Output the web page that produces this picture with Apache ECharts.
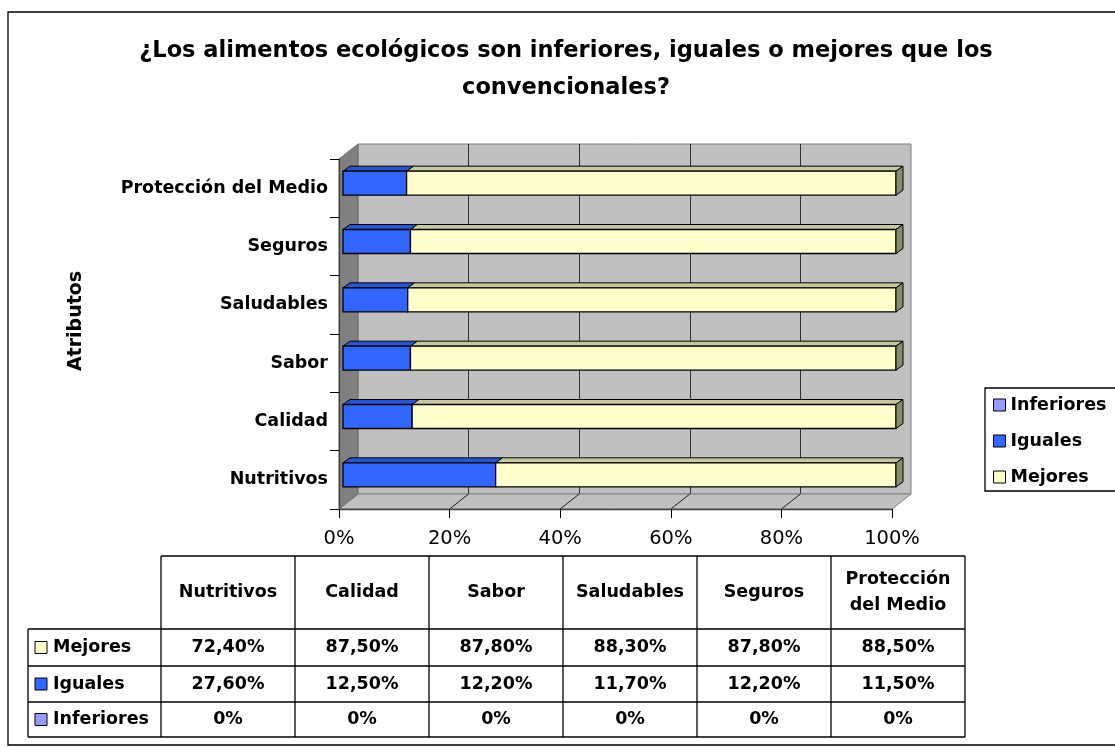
<!DOCTYPE html>
<html>
<head>
<meta charset="utf-8">
<title>Alimentos ecológicos</title>
<script src="https://cdn.jsdelivr.net/npm/echarts@6/dist/echarts.min.js"></script>
<style>
  html, body { margin: 0; padding: 0; background: #fff; }
  #chart { width: 1115px; height: 747px; }
</style>
</head>
<body>
<div id="chart"></div>
<script>
// datos (de abajo hacia arriba en el gráfico)
const categories = ['Nutritivos', 'Calidad', 'Sabor', 'Saludables', 'Seguros', 'Protección del Medio'];
const mejores = [72.4, 87.5, 87.8, 88.3, 87.8, 88.5];
const iguales = [27.6, 12.5, 12.2, 11.7, 12.2, 11.5];
const inferiores = [0, 0, 0, 0, 0, 0];
const xTicks = [0, 20, 40, 60, 80, 100];

const FONT = 'DejaVu Sans';
const WALL_DX = 19, WALL_DY = -15;     // profundidad del fondo
const BAR_H = 24, BAR_DX = 4, BAR_DY = -5;
const TOP_DX = 7, TOP_DY = -5;          // profundidad de cada barra

// orden del apilado, de izquierda a derecha
const segments = [
  { name: 'Inferiores', values: inferiores, front: '#9999FF', top: '#7A7ACC', side: '#5C5C99' },
  { name: 'Iguales', values: iguales, front: '#3366FF', top: '#2A55D0', side: '#1F3D99' },
  { name: 'Mejores', values: mejores, front: '#FFFFCC', top: '#C8C8A0', side: '#8C8C6C' }
];

const fmt = v => (v === 0 ? '0%' : v.toFixed(2).replace('.', ',') + '%');

let chart = echarts.init(document.getElementById('chart'));

function barItem(seg, isLast) {
  return function (params, api) {
    const a = api.coord([api.value(0), api.value(2)]);
    const b = api.coord([api.value(1), api.value(2)]);
    if (b[0] - a[0] < 0.5) return;
    const x0 = a[0] + BAR_DX, x1 = b[0] + BAR_DX;
    const y0 = a[1] + BAR_DY - BAR_H / 2, y1 = y0 + BAR_H;
    const children = [
      {
        type: 'polygon',
        shape: { points: [[x0, y0], [x0 + TOP_DX, y0 + TOP_DY], [x1 + TOP_DX, y0 + TOP_DY], [x1, y0]] },
        style: { fill: seg.top, stroke: '#000', lineWidth: 1 }
      },
      {
        type: 'rect',
        shape: { x: x0, y: y0, width: x1 - x0, height: BAR_H },
        style: { fill: seg.front, stroke: '#000', lineWidth: 1.3 }
      }
    ];
    if (isLast) {
      children.push({
        type: 'polygon',
        shape: { points: [[x1, y0], [x1 + TOP_DX, y0 + TOP_DY], [x1 + TOP_DX, y1 + TOP_DY], [x1, y1]] },
        style: { fill: seg.side, stroke: '#000', lineWidth: 1 }
      });
    }
    return { type: 'group', children };
  };
}

// suelo, pared lateral y líneas del suelo
function scaffold(params, api) {
  const cs = params.coordSys;
  const p = api.coord([api.value(0), 0]);
  const L = cs.x, R = cs.x + cs.width, T = cs.y, B = cs.y + cs.height;
  const children = [];
  if (params.dataIndex === 0) {
    children.push({
      type: 'polygon',
      shape: { points: [[L, B], [L + WALL_DX, B + WALL_DY], [R + WALL_DX, B + WALL_DY], [R, B]] },
      style: { fill: '#C0C0C0', stroke: '#808080', lineWidth: 1 }
    });
    children.push({
      type: 'polygon',
      shape: { points: [[L, T], [L + WALL_DX, T + WALL_DY], [L + WALL_DX, B + WALL_DY], [L, B]] },
      style: { fill: '#808080', stroke: '#707070', lineWidth: 1 }
    });
  }
  if (params.dataIndex > 0 && params.dataIndex < xTicks.length - 1) {
    children.push({
      type: 'line',
      shape: { x1: p[0], y1: B, x2: p[0] + WALL_DX, y2: B + WALL_DY },
      style: { stroke: '#202020', lineWidth: 1 }
    });
  }
  return { type: 'group', children };
}

const series = [{
  type: 'custom',
  name: 'fondo',
  xAxisIndex: 0,
  yAxisIndex: 0,
  z: 3,
  silent: true,
  renderItem: scaffold,
  encode: { x: 0, y: 1 },
  data: xTicks.map(v => [v, 0])
}];

const base = categories.map(() => 0);
segments.forEach((seg, si) => {
  const data = seg.values.map((v, i) => {
    const item = [base[i], base[i] + v, i];
    base[i] += v;
    return item;
  });
  series.push({
    type: 'custom',
    name: seg.name,
    xAxisIndex: 0,
    yAxisIndex: 0,
    z: 4,
    itemStyle: { color: seg.front, borderColor: '#000', borderWidth: 1 },
    renderItem: barItem(seg, si === segments.length - 1),
    encode: { x: [0, 1], y: 2 },
    data
  });
});

// tabla de datos
const tLeft = 28, tCol0 = 161, colW = 134, hTop = 556, hBot = 629;
const rowLines = [629, 666, 702, 737];
const tRight = tCol0 + colW * categories.length;
const tableRows = [
  { name: 'Mejores', values: mejores, color: '#FFFFCC' },
  { name: 'Iguales', values: iguales, color: '#3366FF' },
  { name: 'Inferiores', values: inferiores, color: '#9999FF' }
];
const cellFont = { fontFamily: FONT, fontSize: 17.5, fontWeight: 'bold', fill: '#000' };
const graphics = [];
const hLine = (x1, x2, y) => graphics.push({ type: 'line', shape: { x1, y1: y, x2, y2: y }, style: { stroke: '#000', lineWidth: 1.3 } });
const vLine = (x, y1, y2) => graphics.push({ type: 'line', shape: { x1: x, y1, x2: x, y2 }, style: { stroke: '#000', lineWidth: 1.3 } });

hLine(tCol0, tRight, hTop);
rowLines.forEach(y => hLine(tLeft, tRight, y));
vLine(tLeft, hBot, rowLines[rowLines.length - 1]);
for (let i = 0; i <= categories.length; i++) vLine(tCol0 + colW * i, hTop, rowLines[rowLines.length - 1]);

categories.forEach((c, i) => {
  graphics.push({
    type: 'text',
    x: tCol0 + colW * i + colW / 2,
    y: (hTop + hBot) / 2,
    style: Object.assign({ text: c.replace(' del ', '\ndel '), align: 'center', verticalAlign: 'middle', lineHeight: 26 }, cellFont)
  });
});
tableRows.forEach((r, ri) => {
  const yc = (rowLines[ri] + rowLines[ri + 1]) / 2;
  graphics.push({ type: 'rect', shape: { x: 35, y: yc - 6, width: 12, height: 12 }, style: { fill: r.color, stroke: '#000', lineWidth: 1 } });
  graphics.push({ type: 'text', x: 53, y: yc, style: Object.assign({ text: r.name, align: 'left', verticalAlign: 'middle' }, cellFont) });
  r.values.forEach((v, i) => {
    graphics.push({
      type: 'text',
      x: tCol0 + colW * i + colW / 2,
      y: yc,
      style: Object.assign({ text: fmt(v), align: 'center', verticalAlign: 'middle' }, cellFont)
    });
  });
});

// título del eje vertical
graphics.push({
  type: 'text',
  x: 76,
  y: 321,
  rotation: Math.PI / 2,
  style: { text: 'Atributos', fontFamily: FONT, fontSize: 19, fontWeight: 'bold', fill: '#000', align: 'center', verticalAlign: 'middle' }
});
// marco exterior
graphics.push({
  type: 'rect',
  z: -1,
  shape: { x: 8, y: 12, width: 1120, height: 733 },
  style: { fill: 'none', stroke: '#000', lineWidth: 1.3 }
});

let option = {
  backgroundColor: '#fff',
  animation: false,
  title: {
    text: '¿Los alimentos ecológicos son inferiores, iguales o mejores que los\nconvencionales?',
    left: 566,
    top: 33,
    padding: 0,
    textAlign: 'center',
    textStyle: { fontFamily: FONT, fontSize: 22.5, fontWeight: 'bold', color: '#000', lineHeight: 37 }
  },
  legend: {
    orient: 'vertical',
    left: 985,
    top: 388,
    padding: [7, 30, 4, 8],
    borderColor: '#000',
    borderWidth: 1.3,
    itemWidth: 12,
    itemHeight: 12,
    itemGap: 16,
    icon: 'rect',
    itemStyle: { borderColor: '#000', borderWidth: 1 },
    textStyle: { fontFamily: FONT, fontSize: 17.5, fontWeight: 'bold', color: '#000', lineHeight: 20 },
    data: ['Inferiores', 'Iguales', 'Mejores']
  },
  grid: [
    { left: 339, top: 159, width: 553, height: 350, containLabel: false },
    { left: 358, top: 144, width: 553, height: 350, show: true, backgroundColor: '#C0C0C0', borderColor: '#808080', borderWidth: 1 }
  ],
  xAxis: [
    {
      gridIndex: 0,
      type: 'value',
      min: 0,
      max: 100,
      interval: 20,
      z: 10,
      axisLine: { show: true, lineStyle: { color: '#404040', width: 1.3 } },
      axisTick: { show: true, length: 9, lineStyle: { color: '#000' } },
      axisLabel: { formatter: '{value}%', fontFamily: FONT, fontSize: 19.5, color: '#000', margin: 20 },
      splitLine: { show: false }
    },
    {
      gridIndex: 1,
      type: 'value',
      min: 0,
      max: 100,
      interval: 20,
      axisLine: { show: false },
      axisTick: { show: false },
      axisLabel: { show: false },
      splitLine: { show: true, showMinLine: false, showMaxLine: false, lineStyle: { color: '#303030', width: 1 } }
    }
  ],
  yAxis: [
    {
      gridIndex: 0,
      type: 'category',
      data: categories,
      z: 10,
      axisLine: { show: true, lineStyle: { color: '#404040', width: 1.3 } },
      axisTick: { show: true, length: 9, lineStyle: { color: '#000' } },
      axisLabel: { fontFamily: FONT, fontSize: 17.5, fontWeight: 'bold', color: '#000', margin: 11 },
      splitLine: { show: false }
    },
    {
      gridIndex: 1,
      type: 'category',
      data: categories,
      show: false
    }
  ],
  graphic: graphics,
  series
};

chart.setOption(option);
</script>
</body>
</html>
